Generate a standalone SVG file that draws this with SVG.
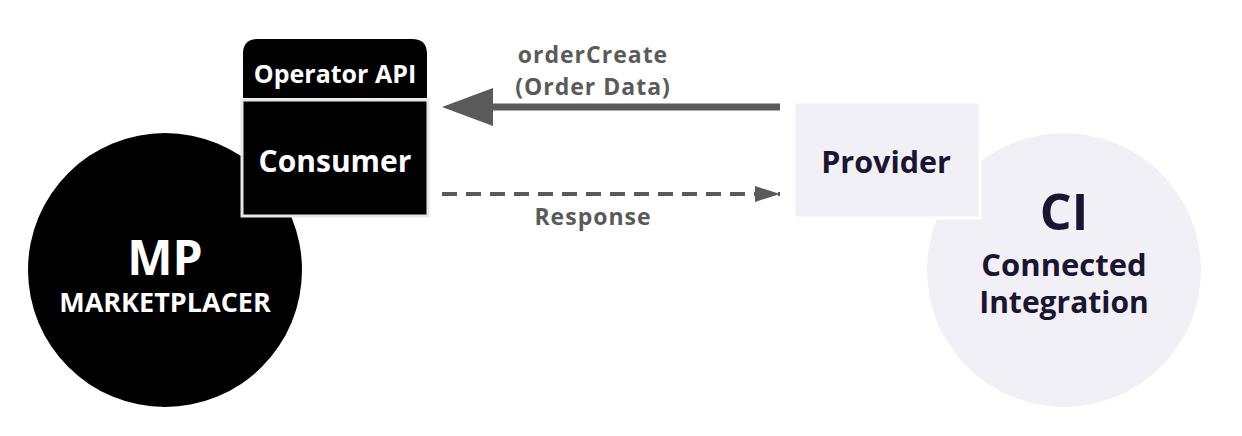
<svg xmlns="http://www.w3.org/2000/svg" width="1242" height="436" viewBox="0 0 1242 436">
<style>
text{font-family:"Open Sans","Liberation Sans",sans-serif;font-weight:700;text-anchor:middle}
.w{fill:#ffffff}
.d{fill:#1a1530}
.g{fill:#5a5a5a}
.lbl{font-size:23px;letter-spacing:1px}
</style>
<defs>
<marker id="hs" viewBox="0 0 51 38" refX="0" refY="19" markerWidth="51" markerHeight="38" markerUnits="userSpaceOnUse" orient="auto">
<path d="M0 0 L51 19 L0 38 Z" fill="#5a5a5a"/>
</marker>
<marker id="hd" viewBox="0 0 25 16" refX="25" refY="8" markerWidth="25" markerHeight="16" markerUnits="userSpaceOnUse" orient="auto">
<path d="M0 0 L25 8 L0 16 Z" fill="#5a5a5a"/>
</marker>
</defs>
<rect width="1242" height="436" fill="#ffffff"/>
<g id="mp">
<circle cx="165" cy="270" r="137" fill="#000000"/>
<text class="w" x="165" y="275" font-size="48">MP</text>
<text class="w" x="165" y="312" font-size="27">MARKETPLACER</text>
</g>
<g id="ci">
<circle cx="1064" cy="270" r="137" fill="#f1f0f7"/>
<text class="d" x="1064" y="230" font-size="50">CI</text>
<text class="d" x="1064" y="276" font-size="31">Connected</text>
<text class="d" x="1064" y="313" font-size="30">Integration</text>
</g>
<g id="operator-api">
<path d="M243 98 V54 Q243 39 258 39 H412 Q427 39 427 54 V98 Z" fill="#000000"/>
<text class="w" x="335" y="83" font-size="25">Operator API</text>
</g>
<g id="consumer">
<rect x="242" y="100" width="186" height="116" fill="#000000" stroke="#e6e6e6" stroke-width="3"/>
<text class="w" x="335" y="172" font-size="30">Consumer</text>
</g>
<g id="provider">
<rect x="794" y="102" width="186" height="116" fill="#f1f0f7" stroke="#ffffff" stroke-width="3"/>
<text class="d" x="886" y="173" font-size="30.5">Provider</text>
</g>
<g id="connectors">
<line x1="780" y1="107" x2="493" y2="107" stroke="#5a5a5a" stroke-width="7" marker-end="url(#hs)"/>
<line x1="442" y1="194" x2="780" y2="194" stroke="#5a5a5a" stroke-width="4" stroke-dasharray="15 9" marker-end="url(#hd)"/>
<text class="g lbl" x="593" y="63">orderCreate</text>
<text class="g lbl" x="593" y="95">(Order Data)</text>
<text class="g lbl" x="593" y="225">Response</text>
</g>
</svg>
